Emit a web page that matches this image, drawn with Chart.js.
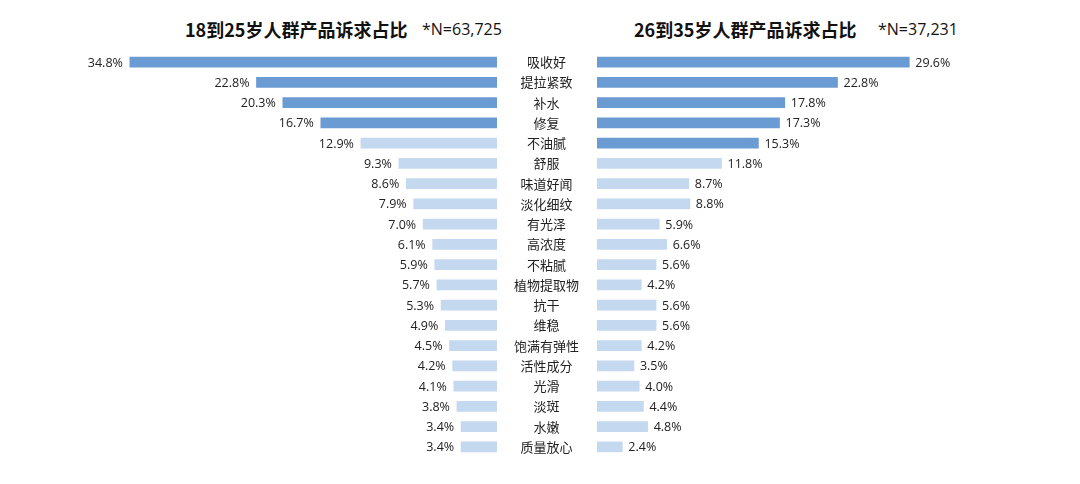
<!DOCTYPE html>
<html>
<head>
<meta charset="utf-8">
<script src="https://cdn.jsdelivr.net/npm/chart.js@4.4.0/dist/chart.umd.min.js"></script>
<style>
  body { margin: 0; background: #fff; width: 1080px; height: 484px; overflow: hidden; position: relative; }
  canvas { position: absolute; top: 0; }
  .title { position: absolute; top: 16px; font-family: "Noto Sans CJK SC", sans-serif; color: #111; white-space: nowrap; font-size: 18px; font-weight: 700; }
  .note { position: absolute; top: 18px; font-family: "Open Sans", "Noto Sans CJK SC", sans-serif; color: #111; white-space: nowrap; font-size: 16px; }
</style>
</head>
<body>
<div class="title" id="t1" style="left:185px"></div>
<div class="note" id="n1" style="left:422px"></div>
<div class="title" id="t2" style="left:634px"></div>
<div class="note" id="n2" style="left:878px"></div>
<canvas id="left" width="510" height="484" style="left:0"></canvas>
<canvas id="right" width="583" height="484" style="left:497px"></canvas>
<script>
var labels = ['吸收好','提拉紧致','补水','修复','不油腻','舒服','味道好闻','淡化细纹','有光泽','高浓度','不粘腻','植物提取物','抗干','维稳','饱满有弹性','活性成分','光滑','淡斑','水嫩','质量放心'];
var age18 = [34.8,22.8,20.3,16.7,12.9,9.3,8.6,7.9,7.0,6.1,5.9,5.7,5.3,4.9,4.5,4.2,4.1,3.8,3.4,3.4];
var age26 = [29.6,22.8,17.8,17.3,15.3,11.8,8.7,8.8,5.9,6.6,5.6,4.2,5.6,5.6,4.2,3.5,4.0,4.4,4.8,2.4];
var titles = ['18到25岁人群产品诉求占比', '26到35岁人群产品诉求占比'];
var sampleN = ['*N=63,725', '*N=37,231'];
var topLeft = 4, topRight = 5;

var dark = '#6b9bd3', light = '#c4d8ef';

document.getElementById('t1').textContent = titles[0];
document.getElementById('n1').textContent = sampleN[0];
document.getElementById('t2').textContent = titles[1];
document.getElementById('n2').textContent = sampleN[1];

function colors(arr, n) {
  return arr.map(function(v, i) { return i < n ? dark : light; });
}

// draws "xx.x%" at the end of each bar
var valueLabels = {
  id: 'valueLabels',
  afterDatasetsDraw: function(chart) {
    var ctx = chart.ctx;
    var rev = chart.options.scales.x.reverse;
    var meta = chart.getDatasetMeta(0);
    ctx.save();
    ctx.font = '12.5px "Open Sans", sans-serif';
    ctx.fillStyle = '#222';
    ctx.textBaseline = 'middle';
    meta.data.forEach(function(bar, i) {
      var txt = chart.data.datasets[0].data[i].toFixed(1) + '%';
      if (rev) {
        ctx.textAlign = 'right';
        ctx.fillText(txt, bar.x - 7, bar.y + 1);
      } else {
        ctx.textAlign = 'left';
        ctx.fillText(txt, bar.x + 6, bar.y + 1);
      }
    });
    ctx.restore();
  }
};

new Chart(document.getElementById('left'), {
  type: 'bar',
  data: {
    labels: labels,
    datasets: [{ data: age18, backgroundColor: colors(age18, topLeft), barThickness: 10 }]
  },
  options: {
    indexAxis: 'y',
    responsive: false,
    animation: false,
    layout: { padding: { left: 75, right: 13, top: 52, bottom: 27 } },
    plugins: { legend: { display: false }, tooltip: { enabled: false } },
    scales: {
      x: { display: false, min: 0, max: 40, reverse: true },
      y: { display: false }
    }
  },
  plugins: [valueLabels]
});

new Chart(document.getElementById('right'), {
  type: 'bar',
  data: {
    labels: labels,
    datasets: [{ data: age26, backgroundColor: colors(age26, topRight), barThickness: 10 }]
  },
  options: {
    indexAxis: 'y',
    responsive: false,
    animation: false,
    layout: { padding: { left: 0, right: 61, top: 52, bottom: 27 } },
    plugins: { legend: { display: false }, tooltip: { enabled: false } },
    scales: {
      x: { display: false, min: 0, max: 40 },
      y: {
        grid: { display: false, drawTicks: false },
        border: { display: false },
        afterFit: function(scale) { scale.width = 100; },
        ticks: {
          crossAlign: 'center',
          padding: 18,
          color: '#222',
          font: { family: '"Noto Sans CJK SC", sans-serif', size: 13 }
        }
      }
    }
  },
  plugins: [valueLabels]
});
</script>
</body>
</html>
